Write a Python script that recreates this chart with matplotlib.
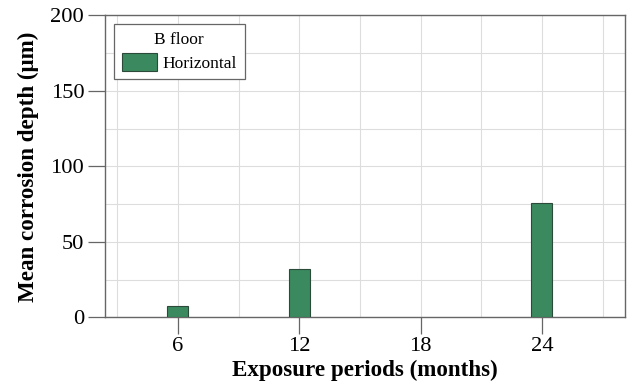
import numpy as np
from matplotlib import pyplot as plt
from matplotlib import rcParams
from matplotlib.ticker import MultipleLocator

rcParams["font.family"] = "serif"
rcParams["font.serif"] = ["Liberation Serif", "DejaVu Serif"]

# mean corrosion depth per exposure period, B floor, horizontal specimens
months = [6, 12, 24]
depth = [7.5, 32, 76]
series_name = "Horizontal"
legend_title = "B floor"

fig = plt.figure(figsize=(6.33, 3.9), dpi=100)
ax = fig.add_axes([0.166, 0.186, 0.821, 0.775])

ax.bar(months, depth, width=1.05, color="#3b8a5f", edgecolor="#2b4a3a",
       linewidth=0.8, label=series_name, zorder=3)

ax.set_xlim(2.4, 28.1)
ax.set_ylim(0, 200)
ax.xaxis.set_major_locator(MultipleLocator(6))
ax.xaxis.set_minor_locator(MultipleLocator(3))
ax.yaxis.set_major_locator(MultipleLocator(50))
ax.yaxis.set_minor_locator(MultipleLocator(25))
ax.set_xticks([6, 12, 18, 24])

ax.grid(which="both", color="#dddddd", linewidth=0.8, zorder=0)
ax.set_axisbelow(True)

for s in ax.spines.values():
    s.set_color("#666666")
    s.set_linewidth(1.0)

ax.tick_params(axis="both", which="major", direction="out", length=12,
               width=0.9, color="#666666", labelsize=16.2, pad=3)
ax.tick_params(axis="x", which="major", pad=2)
ax.tick_params(axis="both", which="minor", length=0)

ax.set_xlabel("Exposure periods (months)", fontsize=16.6, fontweight="bold",
              labelpad=3)
ax.set_ylabel("Mean corrosion depth (μm)", fontsize=16.6, fontweight="bold",
              labelpad=8)

leg = ax.legend(title=legend_title, loc="upper left", fontsize=12.5,
                title_fontsize=12.5, fancybox=False, framealpha=1,
                edgecolor="#666666", borderaxespad=0.5, handlelength=2.05,
                handleheight=1.2, handletextpad=0.3, borderpad=0.45,
                labelspacing=0.3)
leg.get_frame().set_linewidth(0.9)

fig.savefig("out.png", dpi=100)
